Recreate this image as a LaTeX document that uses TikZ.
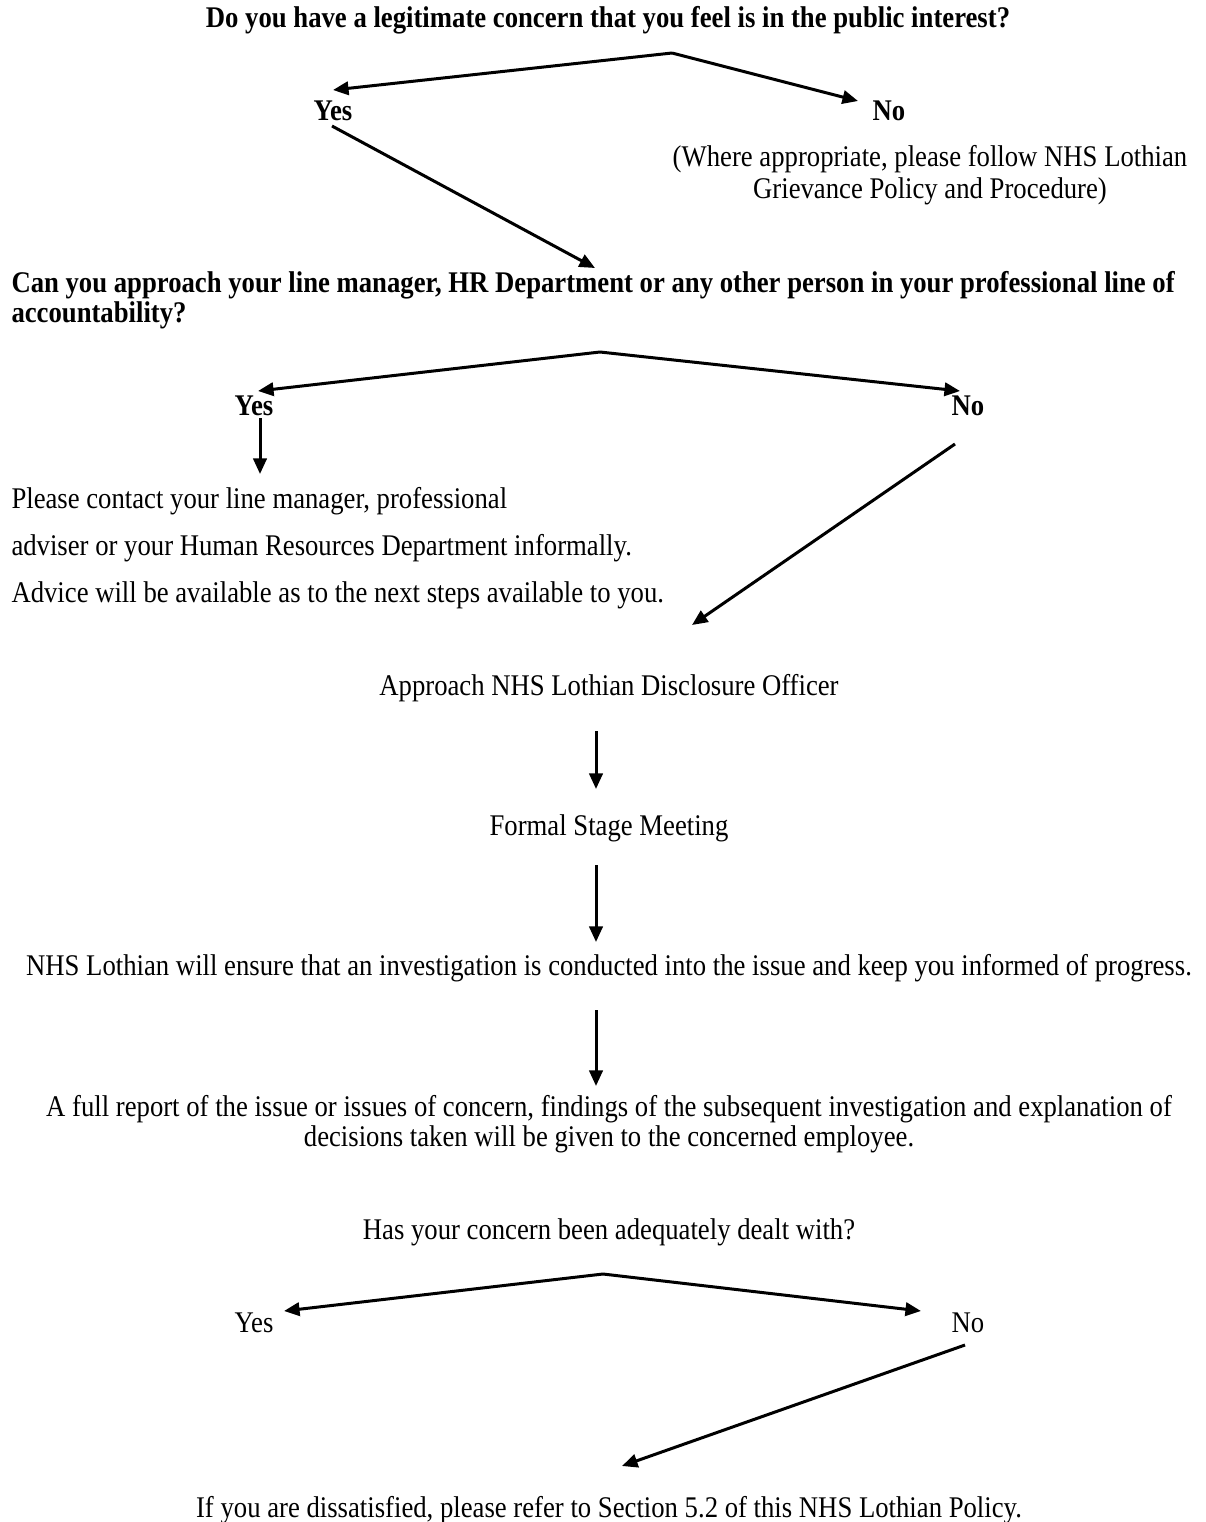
\documentclass[tikz,border=0pt]{standalone}
\usepackage{fontspec}
\setmainfont{Liberation Serif}[FakeStretch=0.89]
\usetikzlibrary{arrows.meta, positioning}

\begin{document}
\begin{tikzpicture}[x=0.45pt, y=-0.45pt, line width=1.35pt, >={Triangle[length=7pt,width=6pt]}]
    \tikzstyle{step text}=[inner sep=0pt, font=\fontsize{13.5}{13.5}\selectfont]
    \tikzstyle{question}=[step text, font=\fontsize{13.5}{13.5}\selectfont\bfseries]
    \tikzstyle{flow}=[->]

    \useasboundingbox (0,0) rectangle (1206,1522);

    % First question and its answers
    \node[question, anchor=base] (interest) at (608,27) {Do you have a legitimate concern that you feel is in the public interest?};
    \coordinate (fork1) at (672,53);
    \node[question, anchor=base] (yes1) at (333,120) {Yes};
    \node[question, anchor=base] (no1) at (889,120) {No};
    % (multi-line nodes sit on the baseline of their last line)
    \node[step text, anchor=base, align=center, font=\fontsize{13.5}{14}\selectfont] (grievance) at (930,198)
        {(Where appropriate, please follow NHS Lothian\\Grievance Policy and Procedure)};

    % Second question
    \node[question, anchor=base west, align=left] (line q) at (10,322)
        {Can you approach your line manager, HR Department or any other person in your professional line of\\accountability?};
    \coordinate (fork2) at (600,352);
    \node[question, anchor=base] (yes2) at (254,415) {Yes};
    \node[question, anchor=base] (no2) at (968,415) {No};
    \node[step text, anchor=base west, align=left, font=\fontsize{13.5}{21.15}\selectfont] (informal) at (10,602)
        {Please contact your line manager, professional\\adviser or your Human Resources Department informally.\\Advice will be available as to the next steps available to you.};

    % Formal route
    \node[step text, anchor=base] (officer) at (609,695) {Approach NHS Lothian Disclosure Officer};
    \node[step text, anchor=base] (meeting) at (609,835) {Formal Stage Meeting};
    \node[step text, anchor=base] (investigation) at (609,975) {NHS Lothian will ensure that an investigation is conducted into the issue and keep you informed of progress.};
    \node[step text, anchor=base, align=center] (report) at (609,1146)
        {A full report of the issue or issues of concern, findings of the subsequent investigation and explanation of\\decisions taken will be given to the concerned employee.};

    % Last question
    \node[step text, anchor=base] (dealt) at (609,1239) {Has your concern been adequately dealt with?};
    \coordinate (fork3) at (603,1274);
    \node[step text, anchor=base] (yes3) at (254,1332) {Yes};
    \node[step text, anchor=base] (no3) at (968,1332) {No};
    \node[step text, anchor=base] (section) at (609,1517) {If you are dissatisfied, please refer to Section 5.2 of this NHS Lothian Policy.};

    % Arrows of the first question
    \draw[flow] (fork1) -- ([shift={(0,-30)}]yes1.base);
    \draw[flow] (fork1) -- ([shift={(-31,-19)}]no1.base);
    \draw[flow] ([shift={(-1,6)}]yes1.base) -- ([shift={(585,-54)}]line q.base west);

    % Arrows of the second question
    \draw[flow] (fork2) -- ([shift={(4,-24)}]yes2.base);
    \draw[flow] (fork2) -- ([shift={(-8,-24)}]no2.base);
    \draw[flow] ([shift={(6,3)}]yes2.base) -- ([shift={(250,-128)}]informal.base west);
    \draw[flow] ([shift={(-13,29)}]no2.base) -- ([shift={(83,-70)}]officer.base);

    % Down the formal route
    \foreach \from/\to/\s/\e in {officer/meeting/36/46, meeting/investigation/30/33, investigation/report/35/60}
        \draw[flow] ([shift={(-13,\s)}]\from.base) -- ([shift={(-13,-\e)}]\to.base);

    % Arrows of the last question
    \draw[flow] (fork3) -- ([shift={(30,-21)}]yes3.base);
    \draw[flow] (fork3) -- ([shift={(-47,-21)}]no3.base);
    \draw[flow] ([shift={(-3,13)}]no3.base) -- ([shift={(13,-51)}]section.base);
\end{tikzpicture}
\end{document}
